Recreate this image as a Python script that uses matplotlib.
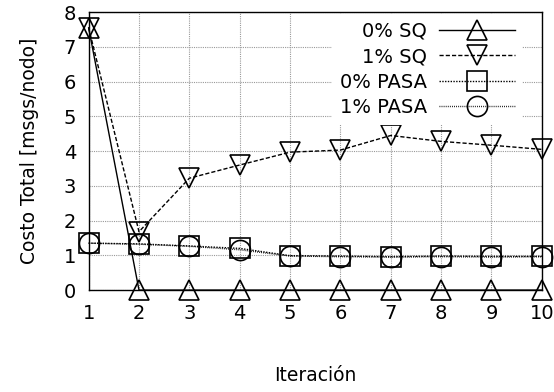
import matplotlib
matplotlib.use("Agg")
import matplotlib.pyplot as plt
import numpy as np

iteracion = np.arange(1, 11)
sq_0 = [7.55, 0, 0, 0, 0, 0, 0, 0, 0, 0]
sq_1 = [7.55, 1.68, 3.22, 3.6, 3.97, 4.03, 4.45, 4.28, 4.17, 4.05]
pasa_0 = [1.35, 1.33, 1.27, 1.2, 0.99, 0.98, 0.96, 0.98, 0.97, 0.97]
pasa_1 = [1.35, 1.32, 1.26, 1.16, 0.98, 0.96, 0.95, 0.96, 0.95, 0.96]
labels = ["0% SQ", "1% SQ", "0% PASA", "1% PASA"]

fig = plt.figure(figsize=(5.54, 3.92), dpi=100)
ax = fig.add_axes([0.16, 0.26, 0.818, 0.709])

mk = dict(markerfacecolor='none', markeredgecolor='black',
          markeredgewidth=1.2, color='black', linewidth=1.0, clip_on=False)
ax.plot(iteracion, sq_0, linestyle='-', marker='^', markersize=15, label=labels[0], zorder=3, **mk)
ax.plot(iteracion, sq_1, linestyle=(0, (3, 1.5)), marker='v', markersize=15, label=labels[1], zorder=3, **mk)
ax.plot(iteracion, pasa_0, linestyle=(0, (1, 1)), marker='s', markersize=14.5, label=labels[2], zorder=3, **mk)
ax.plot(iteracion, pasa_1, linestyle=(0, (0.6, 0.9)), marker='o', markersize=14.5, label=labels[3], zorder=3, **mk)

ax.set_xlim(1, 10)
ax.set_ylim(0, 8)
ax.set_xticks(iteracion)
ax.set_yticks(range(0, 9))
ax.grid(True, color='#999999', linestyle=(0, (1, 1)), linewidth=0.8)
ax.tick_params(labelsize=14, direction='in', length=0)
ax.tick_params(axis='x', pad=10)
ax.tick_params(axis='y', pad=9)
for s in ax.spines.values():
    s.set_linewidth(1.0)
    s.set_zorder(6)

ax.set_xlabel('Iteración', fontsize=13.5, labelpad=31)
ax.set_ylabel('Costo Total [msgs/nodo]', fontsize=13.5, labelpad=18)

# white box without border hides the grid behind the key, as gnuplot does
leg = ax.legend(loc='upper right', frameon=True, fancybox=False, framealpha=1,
                facecolor='white', edgecolor='none', markerfirst=False, fontsize=14,
                handlelength=3.9, labelspacing=0.33, borderaxespad=0.0,
                handletextpad=0.6, bbox_to_anchor=(0.957, 0.993))
for t in leg.get_texts():
    t.set_ha('right')

fig.savefig('out.png', dpi=100)
